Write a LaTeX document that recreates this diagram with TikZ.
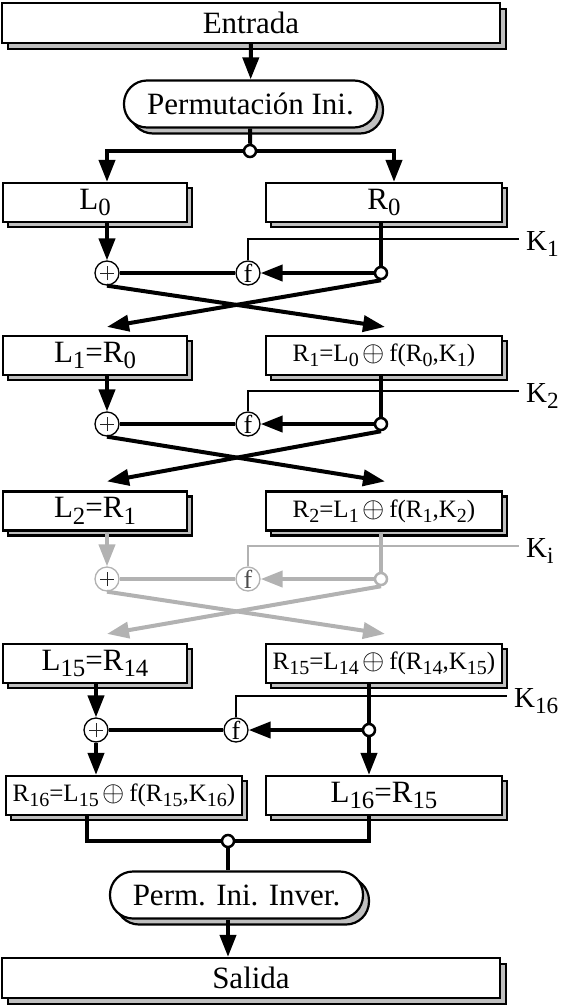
\documentclass[tikz,border=0pt]{standalone}
\usepackage{fontspec}
\setmainfont{Liberation Serif}
\usepackage{graphicx}
\usetikzlibrary{arrows.meta,shadows,calc}

\newcommand\boxfont{\fontsize{31}{33}\selectfont}
\newcommand\eqnfont{\fontsize{25}{27}\selectfont}
\newcommand\keyfont{\fontsize{29}{31}\selectfont}
\newcommand\fnfont{\fontsize{26}{28}\selectfont}
\newcommand\ix[1]{\raisebox{-0.22em}{\scalebox{0.8}{#1}}}
\newcommand\xo{\,\scalebox{1.15}{$\oplus$}\,}

\begin{document}
\begin{tikzpicture}[x=1pt, y=-1pt,
    boxshadow/.style={copy shadow={shadow xshift=#1, shadow yshift=-#1, fill=gray!50, draw=black}},
    plain/.style={draw, fill=white, line width=2.2pt, inner sep=0pt, font=\boxfont},
    wide/.style={plain, boxshadow=6pt, minimum width=498pt, minimum height=40pt},
    pill/.style={plain, boxshadow=6pt, rounded corners=23pt, minimum width=253pt, minimum height=47pt},
    lbox/.style={plain, boxshadow=5pt, minimum width=184pt, minimum height=39pt},
    rbox/.style={lbox, minimum width=236pt},
    eqbox/.style={rbox, font=\eqnfont},
    xor/.style={circle, draw, fill=white, line width=1.3pt, minimum size=24pt, inner sep=0pt,
      path picture={\draw[line width=1pt, black!85]
        ([xshift=-7pt]path picture bounding box.center) -- ([xshift=7pt]path picture bounding box.center)
        ([yshift=-7pt]path picture bounding box.center) -- ([yshift=7pt]path picture bounding box.center);}},
    fn/.style={circle, draw, fill=white, line width=1.3pt, minimum size=24pt, inner sep=0pt, font=\fnfont},
    jn/.style={circle, draw, fill=white, line width=2.5pt, minimum size=12pt, inner sep=0pt},
    faded/.style={draw=gray!60, text=gray!60!black},
    keylab/.style={anchor=west, inner xsep=7pt, inner ysep=0pt, text height=22pt, text depth=0pt, font=\keyfont},
    wire/.style={line width=4pt},
    flow/.style={wire, -{Triangle[width=16pt, length=22pt]}},
    keyline/.style={line width=1.3pt},
    gwire/.style={wire, draw=gray!60},
    gflow/.style={flow, draw=gray!60},
    gkey/.style={keyline, draw=gray!60}]
      \useasboundingbox (0,0) rectangle (561,1007);

      \node[wide] (entrada) at (251,23) {Entrada};
      \node[pill] (perm) at (250.5,104) {Permutación Ini.};
      \node[jn] (jn0) at (250,151) {};

      \node[lbox] (L0) at (95,202.5) {L\ix{0}};
      \node[rbox] (R0) at (384,202.5) {R\ix{0}};
      \node[xor] (xor1) at (107,273) {};
      \node[fn] (f1) at (248,273) {f};
      \node[jn] (jn1) at (381,273) {};
      \node[keylab] (key1) at (519,239) {K\ix{1}};

      \node[lbox] (L1) at (95,355.5) {L\ix{1}=R\ix{0}};
      \node[eqbox] (R1) at (384,355.5) {R\ix{1}=L\ix{0}\xo f(R\ix{0},K\ix{1})};
      \node[xor] (xor2) at (107,424) {};
      \node[fn] (f2) at (248,424) {f};
      \node[jn] (jn2) at (381,424) {};
      \node[keylab] (key2) at (519,391) {K\ix{2}};

      \node[lbox] (L2) at (95,511) {L\ix{2}=R\ix{1}};
      \node[eqbox] (R2) at (384,511) {R\ix{2}=L\ix{1}\xo f(R\ix{1},K\ix{2})};
      \node[xor, faded] (xor3) at (107,579) {};
      \node[fn, faded] (f3) at (248,579) {f};
      \node[jn, faded] (jn3) at (381,579) {};
      \node[keylab] (keyi) at (519,546) {K\ix{i}};

      \node[lbox] (L15) at (95,663.5) {L\ix{15}=R\ix{14}};
      \node[eqbox] (R15) at (384,663.5) {R\ix{15}=L\ix{14}\xo f(R\ix{14},K\ix{15})};
      \node[xor] (xor16) at (96,730) {};
      \node[fn] (f16) at (236,730) {f};
      \node[jn] (jn16) at (369,730) {};
      \node[keylab] (key16) at (507,696) {K\ix{16}};

      \node[eqbox] (R16) at (124,795.5) {R\ix{16}=L\ix{15}\xo f(R\ix{15},K\ix{16})};
      \node[rbox] (L16) at (384,795.5) {L\ix{16}=R\ix{15}};
      \node[jn] (jn17) at (228,841) {};
      \node[pill] (inv) at (236.5,895) {Perm. Ini. Inver.};
      \node[wide] (salida) at (251,978) {Salida};

      \draw[flow] (entrada) -- (perm);
      \draw[wire] (perm) -- (jn0);
      \draw[flow] (jn0) -| (L0.north -| xor1);
      \draw[flow] (jn0) -| ([xshift=10pt]R0.north);

      \draw[flow] (L0.south -| xor1) -- (xor1);
      \draw[wire] (R0.south -| jn1) -- (jn1);
      \draw[flow] (jn1) -- (f1);
      \draw[wire] (f1) -- (xor1);
      \draw[keyline] (f1) |- (key1);
      \draw[flow] (xor1.south) -- ($(R1.north -| jn1)+(4,-8)$);
      \draw[flow] (jn1.south) -- ($(L1.north -| xor1)+(0,-8)$);

      \draw[flow] (L1.south -| xor2) -- (xor2);
      \draw[wire] (R1.south -| jn2) -- (jn2);
      \draw[flow] (jn2) -- (f2);
      \draw[wire] (f2) -- (xor2);
      \draw[keyline] (f2) |- (key2);
      \draw[flow] (xor2.south) -- ($(R2.north -| jn2)+(4,-9)$);
      \draw[flow] (jn2.south) -- ($(L2.north -| xor2)+(0,-9)$);

      \draw[gflow] (L2.south -| xor3) -- (xor3);
      \draw[gwire] (R2.south -| jn3) -- (jn3);
      \draw[gflow] (jn3) -- (f3);
      \draw[gwire] (f3) -- (xor3);
      \draw[gkey] (f3) |- (keyi);
      \draw[gflow] (xor3.south) -- ($(R15.north -| jn3)+(4,-9)$);
      \draw[gflow] (jn3.south) -- ($(L15.north -| xor3)+(0,-9)$);

      \draw[flow] (L15.south -| xor16) -- (xor16);
      \draw[wire] (R15.south -| jn16) -- (jn16);
      \draw[flow] (jn16) -- (f16);
      \draw[wire] (f16) -- (xor16);
      \draw[keyline] (f16) |- (key16);
      \draw[flow] (xor16) -- (R16.north -| xor16);
      \draw[flow] (jn16) -- (L16.north -| jn16);

      \draw[wire] ([xshift=-37pt]R16.south) |- (jn17) -| (L16.south -| jn16);
      \draw[wire] (jn17) -- (inv.north -| jn17);
      \draw[flow] (inv.south -| jn17) -- (salida.north -| jn17);
    \end{tikzpicture}
\end{document}
